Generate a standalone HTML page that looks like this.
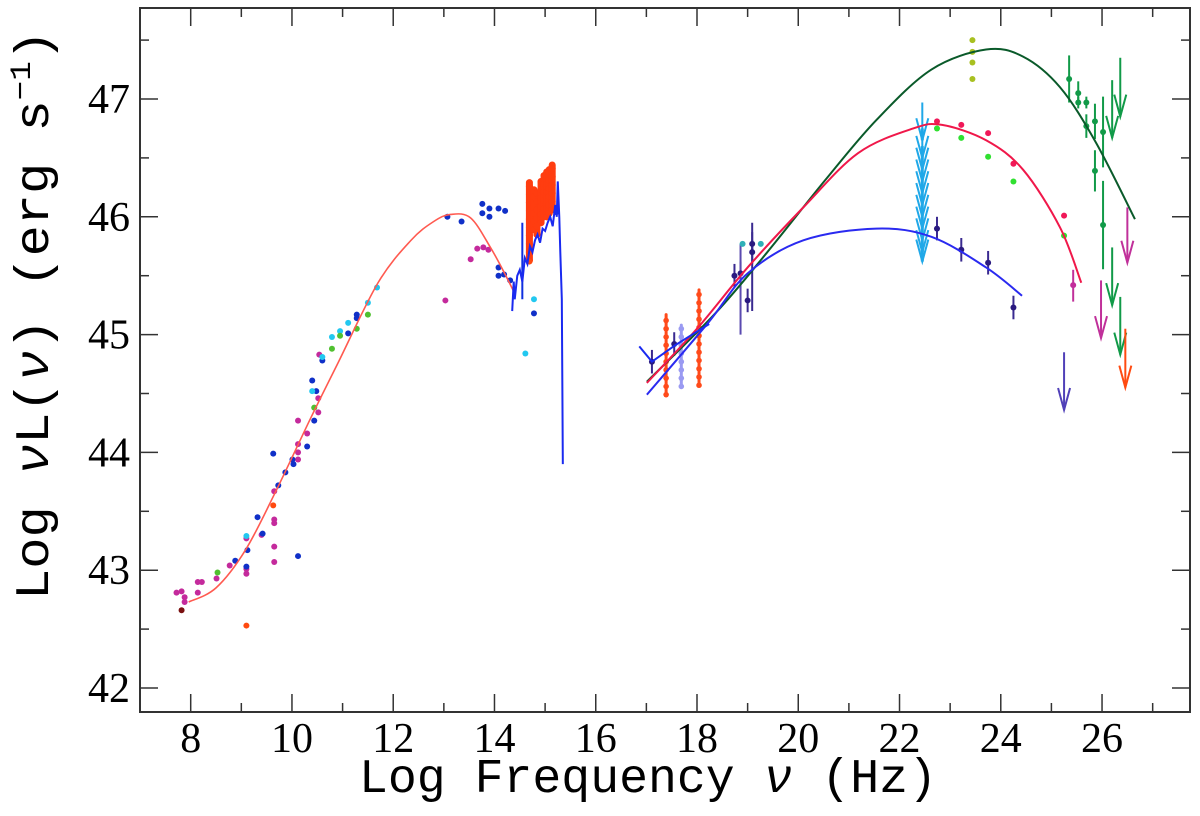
<!DOCTYPE html>
<html><head><meta charset="utf-8"><style>
html,body{margin:0;padding:0;background:#fff;}
svg{display:block;}
text{font-family:"Liberation Serif",serif;fill:#000;}
</style></head><body>
<svg id="chart" width="1200" height="816" viewBox="0 0 1200 816" xmlns="http://www.w3.org/2000/svg">
<rect x="0" y="0" width="1200" height="816" fill="#fff"/>
<g id="marks"></g>
<rect x="140" y="8" width="1050" height="704" fill="none" stroke="#333" stroke-width="2"/>
<g id="axes"></g>
<text x="648" y="792" font-size="48" text-anchor="middle" style="font-family:'Liberation Mono',monospace" textLength="578" lengthAdjust="spacingAndGlyphs">Log Frequency <tspan font-style="italic">ν</tspan> (Hz)</text>
<text transform="translate(48,315) rotate(-90)" font-size="48" text-anchor="middle" style="font-family:'Liberation Mono',monospace" textLength="570" lengthAdjust="spacingAndGlyphs">Log <tspan font-style="italic">ν</tspan>L(<tspan font-style="italic">ν</tspan>) (erg s<tspan dy="-18" font-size="30">−1</tspan><tspan dy="18">)</tspan></text>
</svg>
<script>
const xTicks=[8,10,12,14,16,18,20,22,24,26];
const xMinor=[9,11,13,15,17,19,21,23,25,27];
const yTicks=[42,43,44,45,46,47];
const yMinor=[42.5,43.5,44.5,45.5,46.5,47.5];
// synchrotron fit (red)
const syncV=[7.96,8.5,9.08,9.67,10.38,10.91,11.7,12.35,12.8,13.13,13.53,13.92,14.2,14.41];
const syncL=[42.73,42.85,43.17,43.66,44.30,44.76,45.44,45.80,45.96,46.02,45.99,45.74,45.52,45.34];
// optical spectrum (blue)
const optV=[14.35,14.38,14.4,14.45,14.5,14.55,14.6,14.65,14.7,14.75,14.8,14.85,14.9,14.95,15.0,15.05,15.1,15.15,15.2,15.23,15.25,15.28,15.3,15.33,15.35];
const optL=[45.2,45.45,45.3,45.5,45.55,45.45,45.65,45.6,45.75,45.7,45.8,45.85,45.78,45.9,45.88,45.95,46.0,45.92,46.1,46.0,46.3,46.0,45.7,45.3,43.9];
// high-energy model curves
const greenV=[17.01,18.36,19.37,20.53,21.54,22.63,23.71,24.44,25.17,25.88,26.65];
const greenL=[44.60,45.18,45.69,46.31,46.82,47.25,47.42,47.36,47.10,46.63,45.98];
const redV=[17.01,18.0,19.0,20.1,21.18,22.27,22.84,23.71,24.44,25.17,25.59];
const redL=[44.59,45.05,45.57,46.08,46.54,46.75,46.78,46.65,46.40,45.91,45.44];
const blueV=[17.01,18.22,19.0,20.1,21.54,22.63,23.71,24.42];
const blueL=[44.49,45.10,45.52,45.80,45.90,45.83,45.57,45.33];
const xrayV=[16.86,17.11,17.57,18.24];
const xrayL=[44.90,44.77,44.91,45.09];
// scatter points by colour
const magV=[7.72,7.82,7.88,7.88,8.14,8.14,8.22,8.51,8.77,9.10,9.10,9.10,9.40,9.65,9.65,9.65,9.65,9.65,10.12,10.12,10.12,10.12,10.30,10.52,10.52,10.54,13.03,13.53,13.66,13.78,13.88,25.43];
const magL=[42.81,42.82,42.77,42.73,42.90,42.81,42.90,42.93,43.04,43.01,42.97,43.27,43.30,43.43,43.40,43.20,43.07,43.67,44.27,44.07,44.00,43.94,44.16,44.46,44.34,44.83,45.29,45.64,45.73,45.74,45.72,45.42];
const navyV=[8.88,9.10,9.12,9.32,9.42,9.63,9.73,9.87,10.03,10.01,10.12,10.30,10.40,10.48,10.44,10.60,11.11,11.28,11.28,13.07,13.35,13.76,13.76,13.90,13.90,14.08,14.21,14.08,14.08,14.19,14.31,14.78,15.22];
const navyL=[43.08,43.03,43.17,43.45,43.31,43.99,43.72,43.83,43.90,43.94,43.12,44.05,44.61,44.52,44.27,44.78,45.01,45.17,45.14,46.00,45.96,46.11,46.03,46.07,46.00,46.07,46.05,45.57,45.50,45.51,45.46,45.18,46.04];
const cyanV=[9.10,10.40,10.60,10.79,10.95,11.11,11.50,11.68,14.61,14.78];
const cyanL=[43.29,44.52,44.81,44.98,45.03,45.10,45.27,45.40,44.84,45.30];
const ltgrnV=[8.53,10.44,10.79,10.95,11.28,11.50];
const ltgrnL=[42.98,44.38,44.88,44.99,45.05,45.17];
const orangeV=[9.10,9.63,14.69];
const orangeL=[42.53,43.55,45.62];
const indigoV=[18.74,18.86,19.0,19.09,19.09,22.74,23.22,23.75,24.25,17.55,17.11];
const indigoL=[45.50,45.52,45.29,45.77,45.70,45.90,45.72,45.61,45.23,44.92,44.77];
const tealV=[18.9,19.26];
const tealL=[45.77,45.77];
const oliveV=[23.44,23.44,23.44,23.44];
const oliveL=[47.50,47.40,47.31,47.17];
const pinkV=[22.74,23.22,23.75,24.25,25.25];
const pinkL=[46.81,46.78,46.71,46.45,46.01];
const limeV=[22.74,23.22,23.75,24.25,25.25];
const limeL=[46.75,46.67,46.51,46.30,45.84];
const fermiV=[25.35,25.53,25.53,25.69,25.69,25.86,25.86,26.02,26.02];
const fermiL=[47.17,47.05,46.97,46.97,46.77,46.81,46.39,46.72,45.93];
const fermiErr=[0.4,0.2,0.1,0.1,0.2,0.3,0.35,0.6,0.75];
// optical/UV stacks (vertical clusters)
const stackV=[14.69,14.78,14.84,14.92,14.98,15.03,15.08,15.14,17.39,17.69,18.04];
const stackLo=[45.63,45.89,45.85,45.95,46.0,46.0,46.03,46.06,44.49,44.56,44.57];
const stackHi=[46.29,46.23,46.2,46.3,46.35,46.38,46.4,46.44,45.17,45.08,45.38];
const stackCol=['#ff3d10','#ff3d10','#ff3d10','#ff3d10','#ff3d10','#ff3d10','#ff3d10','#ff3d10','#ff4a1a','#9a9af2','#ff4a1a'];
// upper-limit arrows
const arrV=[26.2,26.36,26.2,26.36,25.98,26.5,26.46,25.25];
const arrTop=[47.16,47.35,45.74,45.32,45.46,46.08,45.05,44.85];
const arrBot=[46.67,46.85,45.25,44.83,44.97,45.61,44.55,44.36];
const arrCol=['#119a48','#119a48','#119a48','#119a48','#c0309a','#c0309a','#ff4a10','#5040b8'];
const cyanArrV=22.45;
const cyanArrTops=[46.75,46.6,46.5,46.4,46.3,46.2,46.1,46.0,45.9,45.8,45.72];

const NS='http://www.w3.org/2000/svg';
const X=v=>190.7+(v-8)*50.63;
const Y=l=>688-(l-42)*117.8;
const marks=document.getElementById('marks');
const axes=document.getElementById('axes');
function mk(tag,attrs,parent){const e=document.createElementNS(NS,tag);for(const k in attrs)e.setAttribute(k,attrs[k]);(parent||marks).appendChild(e);return e;}
function smooth(vs,ls){const p=vs.map((v,i)=>[X(v),Y(ls[i])]);let d='M'+p[0][0]+','+p[0][1];
for(let i=0;i<p.length-1;i++){const p0=p[i-1]||p[i],p1=p[i],p2=p[i+1],p3=p[i+2]||p2;
d+=' C'+(p1[0]+(p2[0]-p0[0])/6)+','+(p1[1]+(p2[1]-p0[1])/6)+' '+(p2[0]-(p3[0]-p1[0])/6)+','+(p2[1]-(p3[1]-p1[1])/6)+' '+p2[0]+','+p2[1];}return d;}
function poly(vs,ls){return vs.map((v,i)=>(i?'L':'M')+X(v)+','+Y(ls[i])).join(' ');}

// axes ticks
xTicks.forEach(t=>{
 const a=mk('line',{x1:X(t),x2:X(t),y1:712,y2:694,stroke:'#333','stroke-width':1.5},axes);
 
 
 mk('line',{x1:X(t),x2:X(t),y1:8,y2:26,stroke:'#333','stroke-width':1.5},axes);
 const lb=mk('text',{x:X(t),y:752,'font-size':42,'text-anchor':'middle'},axes);
 
 
 lb.textContent=t;
});
xMinor.forEach(t=>{mk('line',{x1:X(t),x2:X(t),y1:712,y2:703,stroke:'#333','stroke-width':1.5},axes);mk('line',{x1:X(t),x2:X(t),y1:8,y2:17,stroke:'#333','stroke-width':1.5},axes);});
yTicks.forEach(t=>{
 const a=mk('line',{x1:140,x2:158,y1:Y(t),y2:Y(t),stroke:'#333','stroke-width':1.5},axes);
 
 
 mk('line',{x1:1190,x2:1172,y1:Y(t),y2:Y(t),stroke:'#333','stroke-width':1.5},axes);
 const lb=mk('text',{x:130,y:Y(t)+14,'font-size':42,'text-anchor':'end'},axes);
 
 
 lb.textContent=t;
});
yMinor.forEach(t=>{mk('line',{x1:140,x2:149,y1:Y(t),y2:Y(t),stroke:'#333','stroke-width':1.5},axes);mk('line',{x1:1190,x2:1181,y1:Y(t),y2:Y(t),stroke:'#333','stroke-width':1.5},axes);});

// stacks
stackV.forEach((v,i)=>{
 const g=mk('line',{x1:X(v),x2:X(v),y1:Y(stackHi[i]),y2:Y(stackLo[i]),stroke:stackCol[i],'stroke-width':i<8?7:3,'stroke-linecap':'round'});
 
 
 for(let l=stackLo[i];l<=stackHi[i]+1e-6;l+=0.07){mk('circle',{cx:X(v),cy:Y(l),r:i<8?3.5:2.8,fill:stackCol[i]});}
});

function scatter(vs,ls,col,name,r){vs.forEach((v,i)=>{
 const c=mk('circle',{cx:X(v),cy:Y(ls[i]),r:r||3,fill:col});
 
 
});}
scatter(magV,magL,'#c42a9c','magenta-point');
scatter(navyV,navyL,'#1030c8','navy-point');
scatter(cyanV,cyanL,'#22c8f0','cyan-point');
scatter(ltgrnV,ltgrnL,'#50c030','green-point');
scatter(orangeV,orangeL,'#ff4a10','orange-point');
scatter([7.82],[42.66],'#7a1010','darkred-point');
indigoV.forEach((v,i)=>{mk('line',{x1:X(v),x2:X(v),y1:Y(indigoL[i]+0.1),y2:Y(indigoL[i]-0.1),stroke:'#3a2a90','stroke-width':2});});
mk('line',{x1:X(18.86),x2:X(18.86),y1:Y(45.77),y2:Y(45.0),stroke:'#5a4ab0','stroke-width':2});
mk('line',{x1:X(19.09),x2:X(19.09),y1:Y(45.95),y2:Y(45.2),stroke:'#3a2a90','stroke-width':2});
scatter(indigoV,indigoL,'#2a1a80','indigo-point');
scatter(tealV,tealL,'#30b0b8','teal-point');
scatter(oliveV,oliveL,'#a8c020','olive-point');
scatter(pinkV,pinkL,'#f01858','pink-point');
scatter(limeV,limeL,'#30e030','lime-point');
fermiV.forEach((v,i)=>{mk('line',{x1:X(v),x2:X(v),y1:Y(fermiL[i]+fermiErr[i]/2),y2:Y(fermiL[i]-fermiErr[i]/2),stroke:'#119a48','stroke-width':2});});
scatter(fermiV,fermiL,'#119a48','fermi-point');
mk('line',{x1:X(25.43),x2:X(25.43),y1:Y(45.55),y2:Y(45.28),stroke:'#c0309a','stroke-width':2});
mk('line',{x1:X(14.55),x2:X(14.55),y1:Y(45.95),y2:Y(45.3),stroke:'#1030e0','stroke-width':2});

function arrow(v,top,bot,col,name,w){
 const g=mk('g',{});
 
 
 mk('line',{x1:X(v),x2:X(v),y1:Y(top),y2:Y(bot),stroke:col,'stroke-width':w||2},g);
 mk('polyline',{points:(X(v)-6)+','+(Y(bot)-22)+' '+X(v)+','+Y(bot)+' '+(X(v)+6)+','+(Y(bot)-22),fill:'none',stroke:col,'stroke-width':2},g);
}
arrV.forEach((v,i)=>arrow(v,arrTop[i],arrBot[i],arrCol[i],'upper-limit-arrow'));
mk('line',{x1:X(cyanArrV),x2:X(cyanArrV),y1:Y(46.97),y2:Y(45.63),stroke:'#20a8e8','stroke-width':2});
cyanArrTops.forEach(t=>arrow(cyanArrV,t,t-0.1,'#20a8e8','xray-limit-arrow',3));

function curve(d,col,name,w){const p=mk('path',{d:d,fill:'none',stroke:col,'stroke-width':w||1.8});
 
 }
curve(smooth(syncV,syncL),'#ff5a50','synchrotron-fit',1.6);
curve(poly(optV,optL),'#1a2af0','optical-spectrum',2);
curve(smooth(greenV,greenL),'#0a5a2a','hadronic-fit',2);
curve(smooth(redV,redL),'#f0184a','ec-fit',2);
curve(smooth(blueV,blueL),'#2a2af0','ssc-fit',2);
curve(poly(xrayV,xrayL),'#1a2af0','xray-powerlaw',2);
</script>
</body></html>
